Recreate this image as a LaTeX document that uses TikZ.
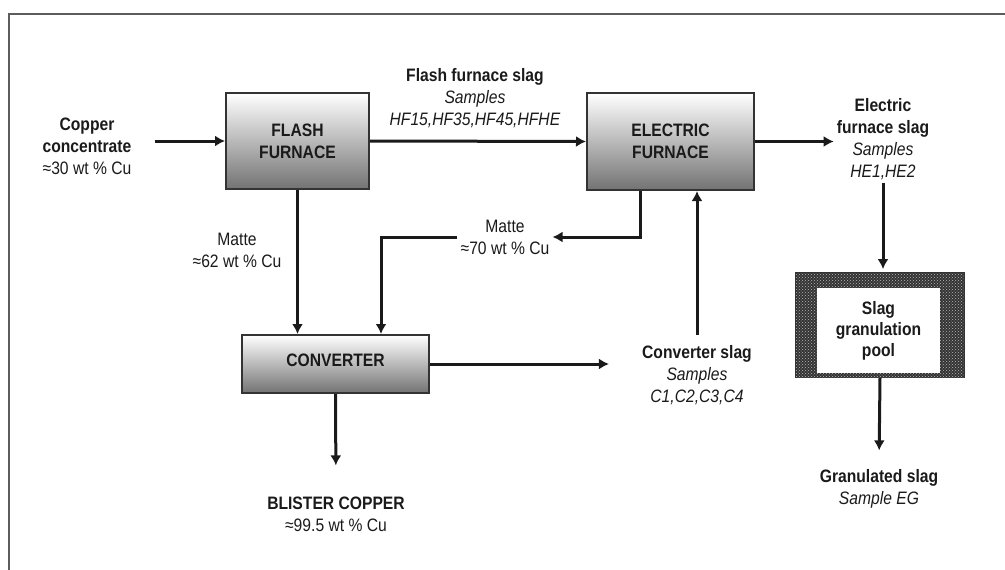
\documentclass[tikz,border=0pt]{standalone}
\usepackage{fontspec}
\setmainfont{Liberation Sans}[FakeStretch=0.87]
\usetikzlibrary{arrows.meta,patterns}

\definecolor{ink}{HTML}{1A1A1A}
\definecolor{rim}{HTML}{333333}

\begin{document}
\begin{tikzpicture}[x=1pt,y=-1pt, every node/.style={text=ink},
    font=\fontsize{18}{22}\selectfont]
  \useasboundingbox (0,0) rectangle (1005,570);
  \draw[rim!80,line width=1.6pt] (9,570) -- (9,14) -- (1005,14);

  \tikzset{
    unit/.style={draw=rim,line width=2pt,top color=white,middle color=white!80!gray,
      bottom color=gray!90!black,align=center,font=\fontsize{18}{22}\selectfont\bfseries},
    stream/.style={align=center,inner sep=3pt},
    flow/.style={line width=3pt,draw=ink,-{Latex[length=10pt,width=11pt]}}
  }

  % Process units
  \node[unit,minimum width=143,minimum height=96] (ff) at (297.5,141) {FLASH\\FURNACE};
  \node[unit,minimum width=167,minimum height=97] (ef) at (670.5,141.5) {ELECTRIC\\FURNACE};
  \node[unit,minimum width=187,minimum height=58] (conv) at (335.5,364) {\raisebox{7pt}{CONVERTER}};

  % Granulation pool: textured rim with a white core
  \node[draw=rim,line width=1.8pt,fill=black!80,postaction={pattern=crosshatch dots,pattern color=gray!55},
    minimum width=168,minimum height=104] (pool) at (880,325) {};
  \node[fill=white,align=center,minimum width=123,minimum height=85,
    font=\fontsize{18}{21}\selectfont\bfseries] (poolcore) at (878.5,330.5) {Slag\\granulation\\pool};

  % Streams
  \node[stream] (feed) at (87,146) {\textbf{Copper}\\\textbf{concentrate}\\≈30 wt \% Cu};
  \node[stream] (ffslag) at (475,98) {\textbf{Flash furnace slag}\\\textit{Samples}\\\textit{HF15,HF35,HF45,HFHE}};
  \node[stream] (efslag) at (883,139) {\textbf{Electric}\\\textbf{furnace slag}\\\textit{Samples}\\\textit{HE1,HE2}};
  \node[stream] (matteff) at (237,250) {Matte\\≈62 wt \% Cu};
  \node[stream] (matteef) at (505,237) {Matte\\≈70 wt \% Cu};
  \node[stream] (cslag) at (697,375) {\textbf{Converter slag}\\\textit{Samples}\\\textit{C1,C2,C3,C4}};
  \node[stream] (blister) at (336,514) {\textbf{BLISTER COPPER}\\≈99.5 wt \% Cu};
  \node[stream] (granslag) at (879,489) {\textbf{Granulated slag}\\\textit{Sample EG}};

  \draw[flow] ([xshift=20pt]feed.east |- ff.west) -- (ff.west);
  \draw[flow] (ff.east) -- (ef.west);
  \draw[flow] (ef.east) -- (efslag.west |- ef.east);
  \draw[flow,shorten >=3pt] (efslag.south) -- (efslag.south |- pool.north);
  \draw[flow,shorten >=16pt] (pool.south) -- (granslag.north);
  \draw[flow] (ff.south) -- (ff.south |- conv.north);
  \draw[flow] ([xshift=-30.5pt]ef.south) |- (matteef.east);
  \draw[flow] (matteef.west) -| ([xshift=45.5pt]conv.north);
  \draw[flow,shorten >=30pt] (conv.east) -- (cslag.west |- conv.east);
  \draw[flow] ([yshift=7pt]cslag.north) -- (cslag.north |- ef.south);
  \draw[flow,shorten >=28pt] (conv.south) -- (blister.north);
\end{tikzpicture}
\end{document}
